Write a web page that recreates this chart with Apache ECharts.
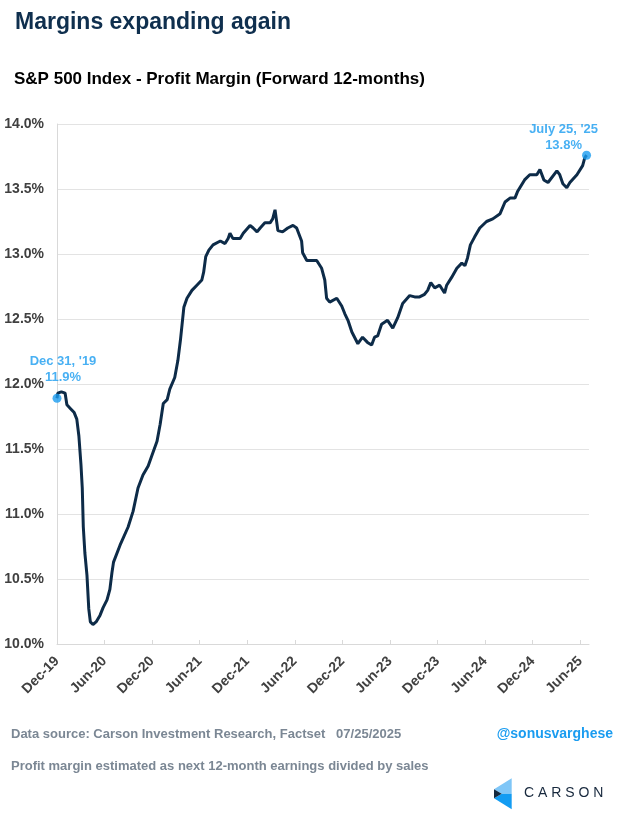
<!DOCTYPE html>
<html>
<head>
<meta charset="utf-8">
<script src="https://cdn.jsdelivr.net/npm/echarts@6/dist/echarts.min.js"></script>
<style>
html,body{margin:0;padding:0;background:#fff;}
#chart{width:624px;height:824px;}
</style>
</head>
<body>
<div id="chart"></div>
<script>
const dates = [
'2019-12-31','2020-01-03','2020-01-17','2020-01-31','2020-02-07','2020-02-21','2020-03-06','2020-03-16','2020-03-24','2020-04-01',
'2020-04-06','2020-04-10','2020-04-16','2020-04-24','2020-05-01','2020-05-07','2020-05-17','2020-05-29','2020-06-13','2020-06-25',
'2020-07-10','2020-07-21','2020-07-29','2020-08-04','2020-08-29','2020-09-29','2020-10-18','2020-11-06','2020-11-25','2020-12-15',
'2020-12-31','2021-01-18','2021-01-30','2021-02-11','2021-02-26','2021-03-08','2021-03-27','2021-04-08','2021-04-18','2021-05-01',
'2021-05-13','2021-06-01','2021-06-20','2021-07-09','2021-07-16','2021-07-24','2021-08-05','2021-08-21','2021-09-18','2021-10-06',
'2021-10-18','2021-10-25','2021-11-05','2021-12-03','2021-12-15','2022-01-10','2022-01-22','2022-02-06','2022-02-18','2022-03-08',
'2022-03-28','2022-04-07','2022-04-16','2022-04-22','2022-04-27','2022-05-15','2022-06-04','2022-06-24','2022-07-08','2022-07-27',
'2022-07-31','2022-08-16','2022-09-05','2022-09-23','2022-10-12','2022-10-24','2022-10-31','2022-11-12','2022-12-09','2022-12-28',
'2023-01-09','2023-01-21','2023-02-05','2023-02-28','2023-03-18','2023-04-06','2023-04-22','2023-05-03','2023-05-15','2023-05-30',
'2023-06-22','2023-07-12','2023-07-31','2023-08-19','2023-09-15','2023-10-04','2023-10-23','2023-11-11','2023-11-23','2023-12-05',
'2023-12-20','2024-01-08','2024-01-27','2024-02-04','2024-02-23','2024-03-14','2024-04-02','2024-04-14','2024-04-24','2024-05-05',
'2024-05-21','2024-06-10','2024-07-06','2024-07-30','2024-08-27','2024-09-15','2024-10-04','2024-10-23','2024-11-02','2024-11-29',
'2024-12-19','2025-01-15','2025-01-27','2025-02-11','2025-02-27','2025-04-02','2025-04-13','2025-04-25','2025-05-10','2025-05-22',
'2025-06-18','2025-07-10','2025-07-18','2025-07-25'
];
const margins = [
11.89,11.93,11.94,11.93,11.84,11.81,11.78,11.73,11.60,11.38,
11.20,10.90,10.70,10.53,10.27,10.17,10.15,10.17,10.22,10.28,
10.34,10.42,10.55,10.63,10.76,10.90,11.02,11.20,11.30,11.37,
11.46,11.56,11.69,11.85,11.88,11.96,12.05,12.18,12.34,12.59,
12.66,12.72,12.76,12.80,12.86,12.98,13.03,13.07,13.10,13.08,
13.12,13.16,13.12,13.12,13.16,13.22,13.20,13.17,13.20,13.24,
13.24,13.27,13.34,13.35,13.18,13.17,13.20,13.22,13.20,13.10,
13.01,12.95,12.95,12.95,12.89,12.80,12.66,12.63,12.66,12.60,
12.54,12.49,12.40,12.31,12.36,12.32,12.30,12.36,12.37,12.46,
12.49,12.43,12.51,12.62,12.68,12.67,12.67,12.69,12.72,12.78,
12.74,12.76,12.70,12.76,12.82,12.89,12.93,12.91,12.97,13.07,
13.13,13.20,13.25,13.27,13.31,13.40,13.43,13.43,13.48,13.57,
13.61,13.61,13.65,13.57,13.55,13.64,13.61,13.54,13.51,13.55,
13.61,13.68,13.74,13.76
];
const tickLabels = ['Dec-19','Jun-20','Dec-20','Jun-21','Dec-21','Jun-22','Dec-22','Jun-23','Dec-23','Jun-24','Dec-24','Jun-25'];
const annotations = [
  {date:'2019-12-31', value:11.89, label:"Dec 31, '19", valueText:'11.9%'},
  {date:'2025-07-25', value:13.76, label:"July 25, '25", valueText:'13.8%'}
];

const baseMs = Date.parse('2019-12-31T00:00:00Z');
function monthsSince(d){ return (Date.parse(d + 'T00:00:00Z') - baseMs) / (86400000 * 30.4375); }
const lineData = dates.map((d,i)=>[monthsSince(d), margins[i]]);
const tickValues = tickLabels.map((_,i)=>i*6);

const chart = echarts.init(document.getElementById('chart'), null, {renderer:'canvas'});
const blue = '#1a9cf0';
const font = 'Liberation Sans, Arial, Helvetica, sans-serif';
chart.setOption({
  backgroundColor:'#ffffff',
  animation:false,
  textStyle:{fontFamily:font},
  title:[
    {text:'Margins expanding again', left:10, top:6, textStyle:{fontFamily:font, fontSize:23, fontWeight:'bold', color:'#0f2f4e'}},
    {text:'S&P 500 Index - Profit Margin (Forward 12-months)', left:9, top:66, textStyle:{fontFamily:font, fontSize:17, fontWeight:'bold', color:'#000000'}}
  ],
  grid:{left:57, right:35, top:124, bottom:180, containLabel:false},
  xAxis:{
    type:'value', min:0, max:67.1, interval:6,
    axisLine:{show:true, lineStyle:{color:'#d9d9d9', width:1}},
    axisTick:{show:true, inside:true, length:4, lineStyle:{color:'#d9d9d9'}, customValues:tickValues},
    splitLine:{show:false},
    axisLabel:{
      customValues:tickValues,
      rotate:45, margin:15, fontFamily:font, fontSize:14, fontWeight:'bold', color:'#404040',
      formatter:function(v){ const i = Math.round(v/6); return (Math.abs(v - i*6) < 0.01 && tickLabels[i]) ? tickLabels[i] : ''; }
    }
  },
  yAxis:{
    type:'value', min:10, max:14, interval:0.5,
    axisLine:{show:true, lineStyle:{color:'#d9d9d9', width:1}},
    axisTick:{show:false},
    splitLine:{show:true, lineStyle:{color:'#e3e3e3', width:1}},
    axisLabel:{margin:13, fontFamily:font, fontSize:14, fontWeight:'bold', color:'#404040',
      formatter:function(v){ return v.toFixed(1) + '%'; }}
  },
  series:[
    {
      type:'line', data:lineData, showSymbol:false, smooth:false,
      lineStyle:{color:'#0d2b48', width:3}, z:3
    },
    {
      type:'scatter', symbolSize:9, z:4,
      itemStyle:{color:blue},
      data:[
        {value:[monthsSince(annotations[0].date), annotations[0].value],
         label:{show:true, position:'top', distance:8, offset:[6,0], formatter:annotations[0].label + '\n' + annotations[0].valueText,
           fontFamily:font, fontSize:13, fontWeight:'bold', color:blue, lineHeight:16, align:'center'}},
        {value:[monthsSince(annotations[1].date), annotations[1].value],
         label:{show:true, position:'top', distance:0, offset:[-23,3], formatter:annotations[1].label + '\n' + annotations[1].valueText,
           fontFamily:font, fontSize:13, fontWeight:'bold', color:blue, lineHeight:16, align:'center'}}
      ]
    }
  ],
  graphic:[
    {type:'text', left:11, top:728, style:{text:'Data source: Carson Investment Research, Factset   07/25/2025', fontFamily:font, fontSize:13, fontWeight:'bold', fill:'#7b8794'}},
    {type:'text', right:11, top:727, style:{text:'@sonusvarghese', fontFamily:font, fontSize:14, fontWeight:'bold', fill:blue}},
    {type:'text', left:11, top:760, style:{text:'Profit margin estimated as next 12-month earnings divided by sales', fontFamily:font, fontSize:13, fontWeight:'bold', fill:'#7b8794'}},
    {type:'polygon', shape:{points:[[494,789.3],[511.7,778.3],[511.7,793.7],[501.7,793.7]]}, style:{fill:'#7fc6f7'}},
    {type:'polygon', shape:{points:[[494,798.3],[501.7,793.7],[511.7,793.7],[511.7,809.3]]}, style:{fill:'#139cf2'}},
    {type:'polygon', shape:{points:[[494,789.3],[501.7,793.7],[494,798.3]]}, style:{fill:'#14293f'}},
    {type:'text', left:524, top:786, style:{text:'C A R S O N', fontFamily:font, fontSize:14, fontWeight:'normal', fill:'#17283d'}}
  ]
});
</script>
</body>
</html>
